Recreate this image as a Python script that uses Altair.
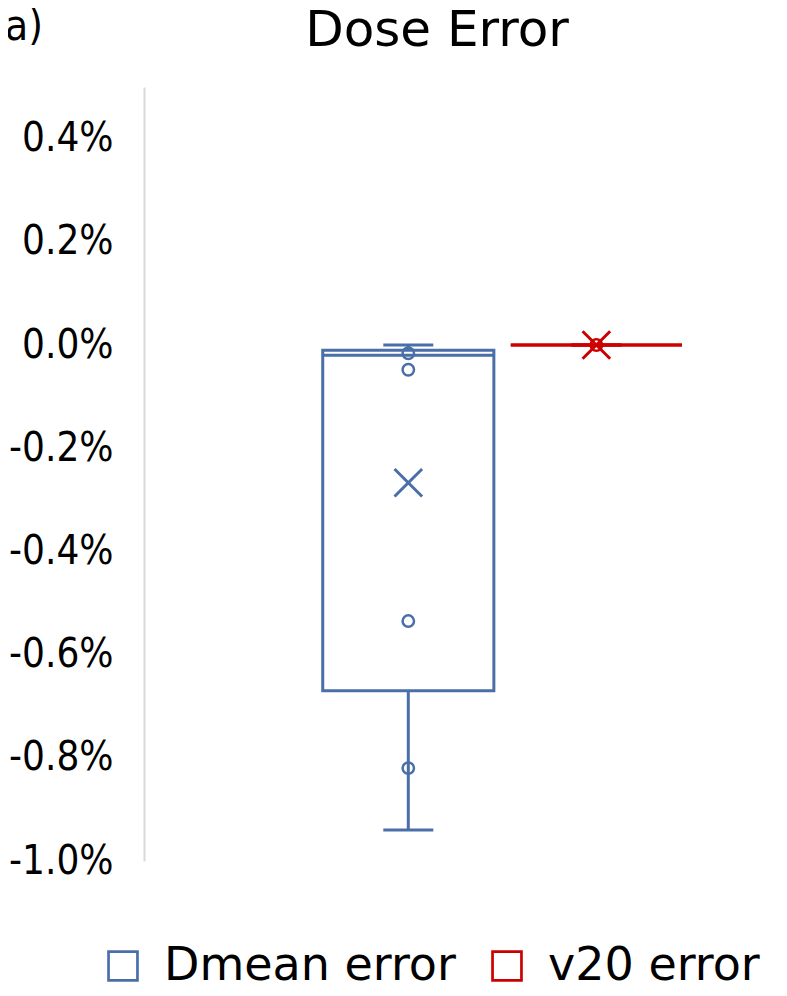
import altair as alt
import pandas as pd

# ---- data ----
series = ["Dmean error", "v20 error"]
colors = ["#4a6fa8", "#cc0000"]
w_min = [-0.0094, 0.0]
q1 = [-0.0067, 0.0]
median = [-0.0002, 0.0]
q3 = [-0.0001, 0.0]
w_max = [0.0, 0.0]
mean = [-0.00267, 0.0]

pt_series = ["Dmean error", "Dmean error", "Dmean error", "Dmean error", "v20 error"]
pt_values = [-0.00016, -0.00048, -0.00535, -0.0082, 0.0]

y_ticks = [-0.010, -0.008, -0.006, -0.004, -0.002, 0.0, 0.002, 0.004]

title_text = "Dose Error"
panel_text = "a)"

FONT = "DejaVu Sans Condensed"
FONT_W = "DejaVu Sans"
LW = 3

# hollow square frame used as legend symbol
FRAME = "M-1,-1H1V1H-1Z M-0.83,-0.83V0.83H0.83V-0.83Z"

stats = pd.DataFrame({"series": series, "min": w_min, "q1": q1, "median": median,
                      "q3": q3, "max": w_max, "mean": mean})
pts = pd.DataFrame({"series": pt_series, "value": pt_values})

xenc = alt.X("series:N", axis=None, sort=series,
             scale=alt.Scale(paddingInner=0.09, paddingOuter=0.72, align=0.66))
cscale = alt.Scale(domain=series, range=colors)
legend = alt.Legend(title=None, orient="none", direction="horizontal",
                    legendX=-44, legendY=856, symbolType=FRAME,
                    symbolSize=1000, symbolStrokeWidth=0, symbolOpacity=1,
                    labelFontSize=46, labelFont=FONT_W, labelColor="#000",
                    labelOffset=18, columnPadding=28, labelLimit=0, padding=0)
stroke = alt.Stroke("series:N", scale=cscale, legend=legend)

yscale = alt.Scale(domain=[-0.010, 0.005], nice=False, zero=False)
yaxis = alt.Axis(title=None, grid=False, ticks=False, values=y_ticks,
                 domainColor="#d9d9d9", domainWidth=2, labelFontSize=40,
                 labelFont=FONT, labelColor="#000", labelPadding=31,
                 labelExpr="replace(format(datum.value, '.1%'), '\u2212', '-')")

base = alt.Chart(stats)

box = base.mark_bar(filled=False, strokeWidth=LW).encode(
    x=xenc, y=alt.Y("q1:Q", scale=yscale, axis=yaxis), y2="q3:Q", stroke=stroke)

med = base.mark_bar(filled=False, strokeWidth=LW).encode(
    x=xenc, y=alt.Y("median:Q"), y2="median:Q", stroke=stroke)

whisk_lo = base.mark_rule(strokeWidth=LW).encode(x=xenc, y="min:Q", y2="q1:Q", stroke=stroke)
whisk_hi = base.mark_rule(strokeWidth=LW).encode(x=xenc, y="q3:Q", y2="max:Q", stroke=stroke)

cap_lo = base.mark_tick(size=50, thickness=LW, orient="horizontal", opacity=1).encode(
    x=xenc, y="min:Q", color=alt.Color("series:N", scale=cscale, legend=None))
cap_hi = base.mark_tick(size=50, thickness=LW, orient="horizontal", opacity=1).encode(
    x=xenc, y="max:Q", color=alt.Color("series:N", scale=cscale, legend=None))

mean_mark = base.mark_point(shape="M-1,-1L1,1M1,-1L-1,1", size=760, strokeWidth=LW,
                            filled=False, opacity=1).encode(
    x=xenc, y="mean:Q", stroke=stroke)

points = alt.Chart(pts).mark_point(shape="circle", size=130, strokeWidth=2.5,
                                   filled=False, opacity=1).encode(
    x=xenc, y="value:Q", stroke=stroke)

label_a = alt.Chart(pd.DataFrame({"t": [panel_text]})).mark_text(
    fontSize=42, font=FONT, align="left", baseline="alphabetic", color="#000").encode(
    text="t:N", x=alt.value(-139), y=alt.value(-47))

title_mark = alt.Chart(pd.DataFrame({"t": [title_text]})).mark_text(
    fontSize=50, font=FONT_W, align="center", baseline="alphabetic", color="#000").encode(
    text="t:N", x=alt.value(293), y=alt.value(-41))

chart = alt.layer(box, med, whisk_lo, whisk_hi, cap_lo, cap_hi, points, mean_mark,
                  label_a, title_mark).properties(
    width=630, height=774,
    autosize=alt.AutoSizeParams(type="none"),
    padding={"left": 136, "top": 79, "right": 5, "bottom": 127},
).configure_view(stroke=None)

chart.save("out.html", embed_options={"renderer": "svg", "actions": False})
